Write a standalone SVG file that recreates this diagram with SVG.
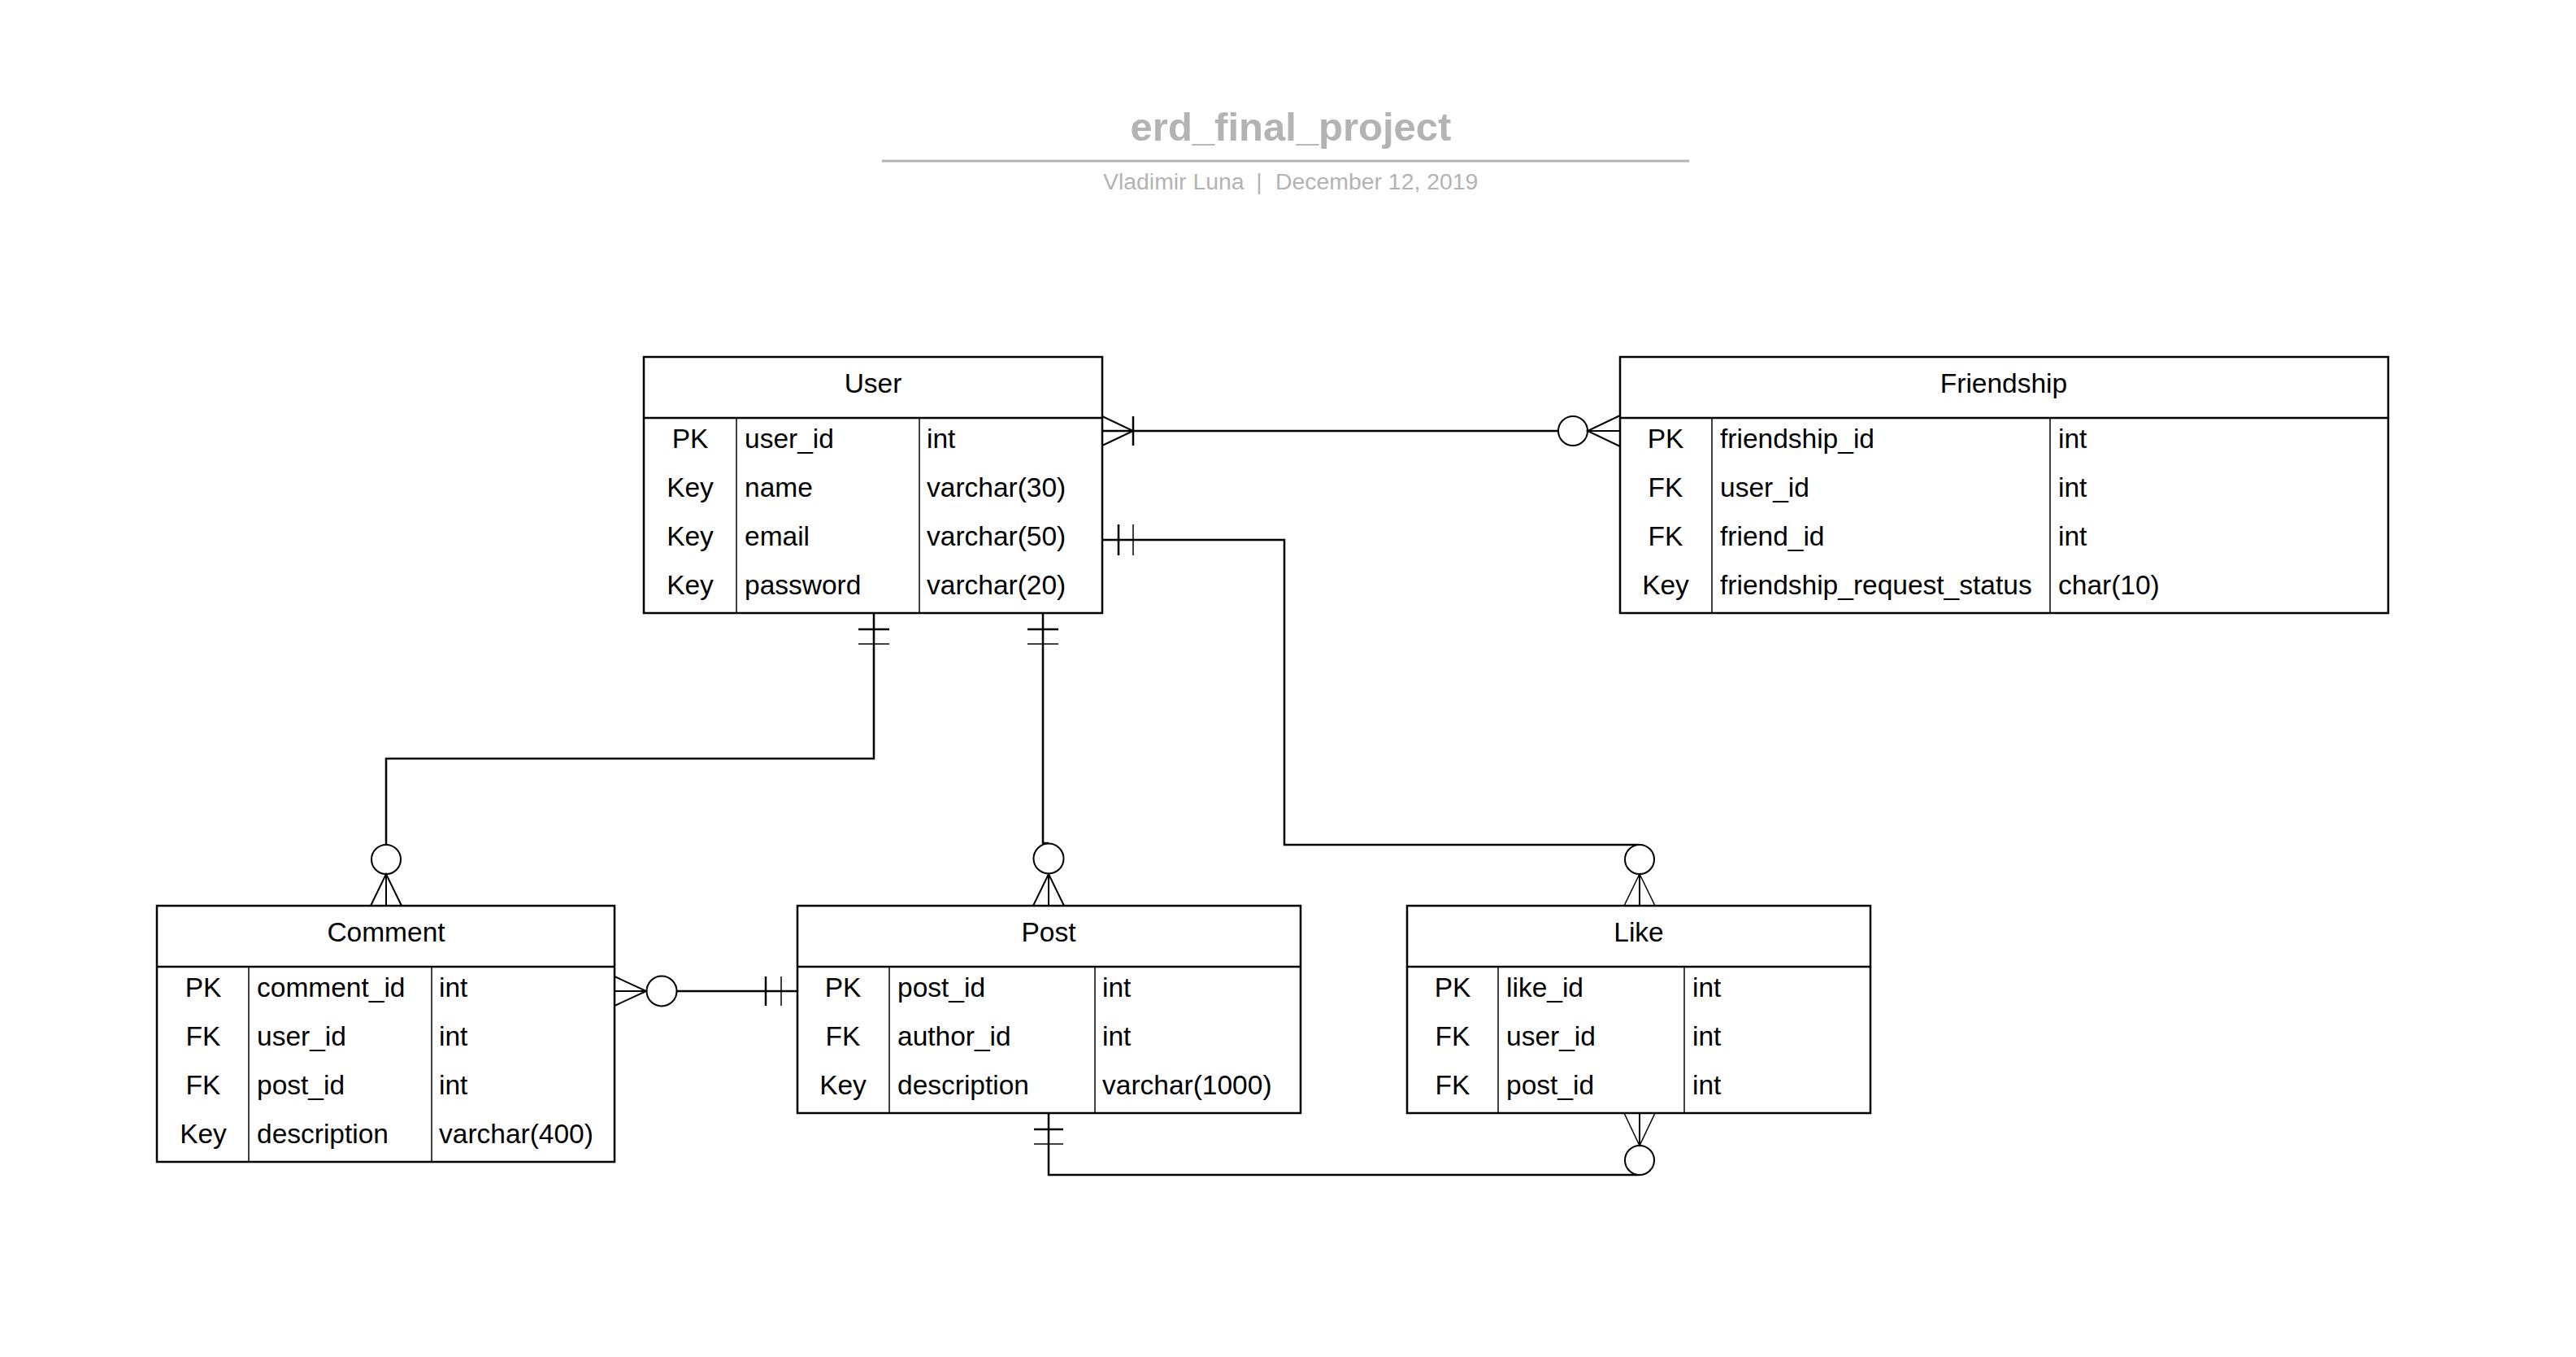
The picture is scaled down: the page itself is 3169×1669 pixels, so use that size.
<svg xmlns="http://www.w3.org/2000/svg" width="3169" height="1669" viewBox="0 0 3169 1669">
<style>
.bg{fill:#fff}
.tb{fill:#fff;stroke:#000;stroke-width:2.5}
.hl{stroke:#000;stroke-width:2.5}
.cl{stroke:#000;stroke-width:1.5}
.t{font-family:"Liberation Sans",Arial,sans-serif;font-size:33.5px;fill:#000}
.c{text-anchor:middle}
.conn{fill:none;stroke:#000;stroke-width:2.5}
.foot{fill:none;stroke:#000;stroke-width:2}
.thin{fill:none;stroke:#000;stroke-width:1.5}
.ring{fill:#fff;stroke:#000;stroke-width:2}
.title{font-family:"Liberation Sans",Arial,sans-serif;font-size:49px;font-weight:bold;fill:#b3b3b3;text-anchor:middle}
.sub{font-family:"Liberation Sans",Arial,sans-serif;font-size:28.4px;fill:#b3b3b3}
</style>
<rect class="bg" x="0" y="0" width="3169" height="1669"/>

<g id="title">
<text class="title" x="1588" y="173">erd_final_project</text>
<line x1="1085" y1="198" x2="2078" y2="198" stroke="#b3b3b3" stroke-width="3"/>
<text class="sub" x="1357" y="233">Vladimir Luna</text>
<text class="sub" x="1549" y="233" text-anchor="middle">|</text>
<text class="sub" x="1569" y="233">December 12, 2019</text>
</g>

<g id="connectors">
<!-- User -> Friendship -->
<line class="conn" x1="1356" y1="530" x2="1917" y2="530"/>
<polyline class="foot" points="1356,512 1394,530 1356,548"/>
<line class="foot" x1="1356" y1="530" x2="1394" y2="530"/>
<line class="conn" x1="1394" y1="512" x2="1394" y2="548"/>
<circle class="ring" cx="1935" cy="530" r="18"/>
<polyline class="foot" points="1993,511 1953,530 1993,549"/>
<line class="foot" x1="1953" y1="530" x2="1993" y2="530"/>

<!-- User email -> Like -->
<polyline class="conn" points="1356,664 1580,664 1580,1039 2017,1039"/>
<line class="conn" x1="1376" y1="645" x2="1376" y2="683"/>
<line class="thin" x1="1394" y1="645" x2="1394" y2="683"/>
<circle class="ring" cx="2017" cy="1057" r="18"/>
<polyline class="thin" points="1998,1114 2017,1075 2036,1114"/>
<line class="foot" x1="2017" y1="1075" x2="2017" y2="1114"/>

<!-- User -> Comment -->
<polyline class="conn" points="1075,754 1075,933 475,933 475,1039"/>
<line class="conn" x1="1056" y1="774" x2="1094" y2="774"/>
<line class="thin" x1="1056" y1="792" x2="1094" y2="792"/>
<circle class="ring" cx="475" cy="1057" r="18"/>
<polyline class="foot" points="456,1114 475,1075 494,1114"/>
<line class="foot" x1="475" y1="1075" x2="475" y2="1114"/>

<!-- User -> Post -->
<polyline class="conn" points="1283,754 1283,1037 1290,1037"/>
<line class="conn" x1="1264" y1="774" x2="1302" y2="774"/>
<line class="thin" x1="1264" y1="792" x2="1302" y2="792"/>
<circle class="ring" cx="1290" cy="1056" r="18.5"/>
<polyline class="foot" points="1271,1114 1290,1075 1309,1114"/>
<line class="foot" x1="1290" y1="1075" x2="1290" y2="1114"/>

<!-- Comment -> Post -->
<line class="conn" x1="832" y1="1219" x2="981" y2="1219"/>
<polyline class="foot" points="756,1201 795,1219 756,1237"/>
<line class="foot" x1="756" y1="1219" x2="795" y2="1219"/>
<circle class="ring" cx="814" cy="1219" r="18.5"/>
<line class="conn" x1="942" y1="1201" x2="942" y2="1237"/>
<line class="thin" x1="961" y1="1201" x2="961" y2="1237"/>

<!-- Post -> Like -->
<polyline class="conn" points="1290,1369 1290,1445 2017,1445"/>
<line class="conn" x1="1272" y1="1389" x2="1308" y2="1389"/>
<line class="thin" x1="1272" y1="1407" x2="1308" y2="1407"/>
<circle class="ring" cx="2017" cy="1427" r="18"/>
<polyline class="thin" points="1998,1369 2017,1409 2036,1369"/>
<line class="foot" x1="2017" y1="1369" x2="2017" y2="1409"/>
</g>

<g id="user">
<rect class="tb" x="792" y="439" width="564" height="315"/>
<line class="hl" x1="792" y1="514" x2="1356" y2="514"/>
<line class="cl" x1="906" y1="514" x2="906" y2="754"/>
<line class="cl" x1="1131" y1="514" x2="1131" y2="754"/>
<text class="t c" x="1074" y="483">User</text>
<text class="t c" x="849" y="551">PK</text><text class="t" x="916" y="551">user_id</text><text class="t" x="1140" y="551">int</text>
<text class="t c" x="849" y="611">Key</text><text class="t" x="916" y="611">name</text><text class="t" x="1140" y="611">varchar(30)</text>
<text class="t c" x="849" y="671">Key</text><text class="t" x="916" y="671">email</text><text class="t" x="1140" y="671">varchar(50)</text>
<text class="t c" x="849" y="731">Key</text><text class="t" x="916" y="731">password</text><text class="t" x="1140" y="731">varchar(20)</text>
</g>

<g id="friendship">
<rect class="tb" x="1993" y="439" width="945" height="315"/>
<line class="hl" x1="1993" y1="514" x2="2938" y2="514"/>
<line class="cl" x1="2106" y1="514" x2="2106" y2="754"/>
<line class="cl" x1="2522" y1="514" x2="2522" y2="754"/>
<text class="t c" x="2465" y="483">Friendship</text>
<text class="t c" x="2049" y="551">PK</text><text class="t" x="2116" y="551">friendship_id</text><text class="t" x="2532" y="551">int</text>
<text class="t c" x="2049" y="611">FK</text><text class="t" x="2116" y="611">user_id</text><text class="t" x="2532" y="611">int</text>
<text class="t c" x="2049" y="671">FK</text><text class="t" x="2116" y="671">friend_id</text><text class="t" x="2532" y="671">int</text>
<text class="t c" x="2049" y="731">Key</text><text class="t" x="2116" y="731">friendship_request_status</text><text class="t" x="2532" y="731">char(10)</text>
</g>

<g id="comment">
<rect class="tb" x="193" y="1114" width="563" height="315"/>
<line class="hl" x1="193" y1="1189" x2="756" y2="1189"/>
<line class="cl" x1="306" y1="1189" x2="306" y2="1429"/>
<line class="cl" x1="531" y1="1189" x2="531" y2="1429"/>
<text class="t c" x="475" y="1158">Comment</text>
<text class="t c" x="250" y="1226">PK</text><text class="t" x="316" y="1226">comment_id</text><text class="t" x="540" y="1226">int</text>
<text class="t c" x="250" y="1286">FK</text><text class="t" x="316" y="1286">user_id</text><text class="t" x="540" y="1286">int</text>
<text class="t c" x="250" y="1346">FK</text><text class="t" x="316" y="1346">post_id</text><text class="t" x="540" y="1346">int</text>
<text class="t c" x="250" y="1406">Key</text><text class="t" x="316" y="1406">description</text><text class="t" x="540" y="1406">varchar(400)</text>
</g>

<g id="post">
<rect class="tb" x="981" y="1114" width="619" height="255"/>
<line class="hl" x1="981" y1="1189" x2="1600" y2="1189"/>
<line class="cl" x1="1094" y1="1189" x2="1094" y2="1369"/>
<line class="cl" x1="1347" y1="1189" x2="1347" y2="1369"/>
<text class="t c" x="1290" y="1158">Post</text>
<text class="t c" x="1037" y="1226">PK</text><text class="t" x="1104" y="1226">post_id</text><text class="t" x="1356" y="1226">int</text>
<text class="t c" x="1037" y="1286">FK</text><text class="t" x="1104" y="1286">author_id</text><text class="t" x="1356" y="1286">int</text>
<text class="t c" x="1037" y="1346">Key</text><text class="t" x="1104" y="1346">description</text><text class="t" x="1356" y="1346">varchar(1000)</text>
</g>

<g id="like">
<rect class="tb" x="1731" y="1114" width="570" height="255"/>
<line class="hl" x1="1731" y1="1189" x2="2301" y2="1189"/>
<line class="cl" x1="1843" y1="1189" x2="1843" y2="1369"/>
<line class="cl" x1="2072" y1="1189" x2="2072" y2="1369"/>
<text class="t c" x="2016" y="1158">Like</text>
<text class="t c" x="1787" y="1226">PK</text><text class="t" x="1853" y="1226">like_id</text><text class="t" x="2082" y="1226">int</text>
<text class="t c" x="1787" y="1286">FK</text><text class="t" x="1853" y="1286">user_id</text><text class="t" x="2082" y="1286">int</text>
<text class="t c" x="1787" y="1346">FK</text><text class="t" x="1853" y="1346">post_id</text><text class="t" x="2082" y="1346">int</text>
</g>
</svg>
